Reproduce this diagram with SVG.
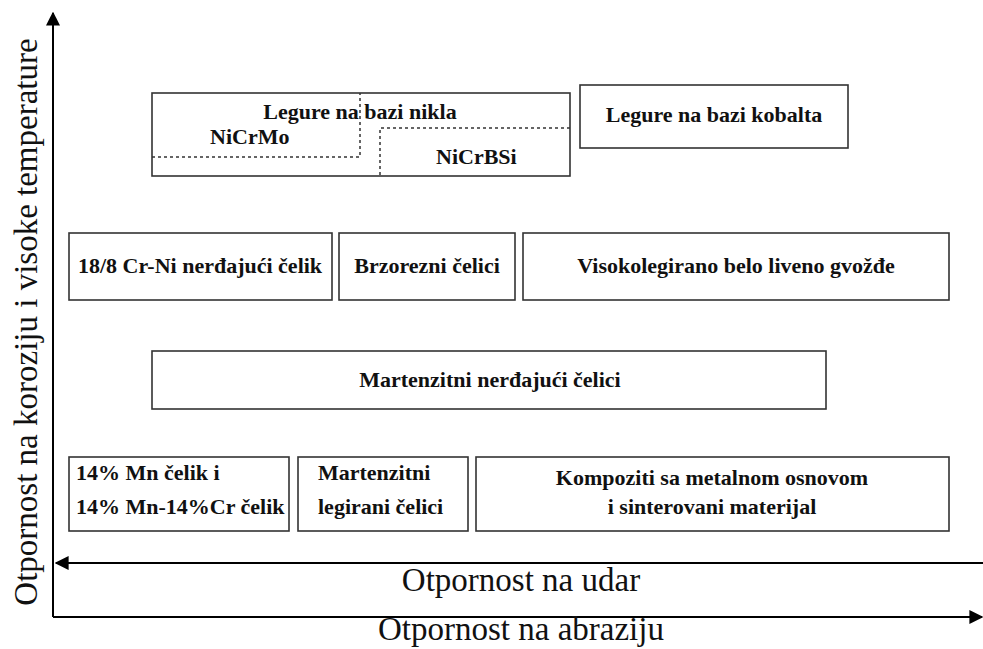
<svg xmlns="http://www.w3.org/2000/svg" width="983" height="649" viewBox="0 0 983 649">
<style>
.box{fill:#fff;stroke:#333;stroke-width:1.6}
.dot{fill:none;stroke:#333;stroke-width:1.5;stroke-dasharray:3 3}
.t{font-family:"Liberation Serif",serif;font-weight:bold;font-size:22px;fill:#111}
.c{text-anchor:middle}
.ax{font-family:"Liberation Serif",serif;font-size:33px;fill:#111;text-anchor:middle}
.axis{stroke:#000;stroke-width:2;fill:none}
</style>
<defs>
<marker id="ah" viewBox="0 0 10 10" refX="9" refY="5" markerWidth="14" markerHeight="15" markerUnits="userSpaceOnUse" orient="auto">
<path d="M0,0 L10,5 L0,10 z" fill="#000"/>
</marker>
</defs>
<rect width="983" height="649" fill="#fff"/>
<g id="connectors">
<line class="axis" x1="53" y1="617" x2="53" y2="13" marker-end="url(#ah)"/>
<line class="axis" x1="53" y1="617" x2="982" y2="617" marker-end="url(#ah)"/>
<line class="axis" x1="983" y1="563" x2="56" y2="563" marker-end="url(#ah)"/>
</g>
<g id="axis-labels">
<text class="ax" x="521" y="591">Otpornost na udar</text>
<text class="ax" x="521" y="640">Otpornost na abraziju</text>
<text class="ax" transform="translate(37,322) rotate(-90)">Otpornost na koroziju i visoke temperature</text>
</g>
<g id="nikla">
<rect class="box" x="152" y="93" width="418" height="83"/>
<path class="dot" d="M152,157 H360 V93"/>
<path class="dot" d="M570,128 H380 V176"/>
<text class="t c" x="360" y="119">Legure na bazi nikla</text>
<text class="t" x="210" y="144">NiCrMo</text>
<text class="t" x="436" y="164">NiCrBSi</text>
</g>
<g id="kobalta">
<rect class="box" x="580" y="85" width="268" height="63"/>
<text class="t c" x="714" y="122">Legure na bazi kobalta</text>
</g>
<g id="crni">
<rect class="box" x="69" y="233" width="263" height="67"/>
<text class="t c" x="200" y="273">18/8 Cr-Ni nerđajući čelik</text>
</g>
<g id="brzorezni">
<rect class="box" x="339" y="233" width="176" height="67"/>
<text class="t c" x="427" y="273">Brzorezni čelici</text>
</g>
<g id="visokolegirano">
<rect class="box" x="523" y="233" width="426" height="67"/>
<text class="t c" x="736" y="273">Visokolegirano belo liveno gvožđe</text>
</g>
<g id="martenzitni-nerdjajuci">
<rect class="box" x="152" y="351" width="674" height="58"/>
<text class="t c" x="490" y="387">Martenzitni nerđajući čelici</text>
</g>
<g id="mn-celik">
<rect class="box" x="69" y="457" width="220" height="74"/>
<text class="t" x="76" y="480">14% Mn čelik i</text>
<text class="t" x="76" y="514">14% Mn-14%Cr čelik</text>
</g>
<g id="martenzitni-legirani">
<rect class="box" x="298" y="457" width="170" height="74"/>
<text class="t" x="318" y="480">Martenzitni</text>
<text class="t" x="318" y="514">legirani čelici</text>
</g>
<g id="kompoziti">
<rect class="box" x="476" y="457" width="473" height="74"/>
<text class="t c" x="712" y="485">Kompoziti sa metalnom osnovom</text>
<text class="t c" x="712" y="514">i sinterovani materijal</text>
</g>
</svg>
